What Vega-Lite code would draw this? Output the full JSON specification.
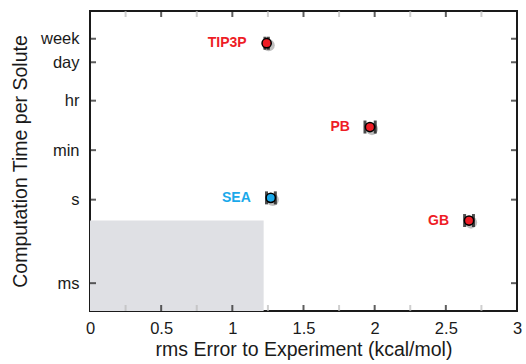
{
  "$schema": "https://vega.github.io/schema/vega-lite/v6.json",
  "autosize": "none",
  "width": 427,
  "height": 300,
  "padding": {"left": 90, "top": 11, "right": 9, "bottom": 53},
  "background": "white",
  "config": {
    "view": {"stroke": "#1a1a1a", "strokeWidth": 2},
    "font": "Liberation Sans",
    "axis": {
      "grid": false,
      "domain": false,
      "ticks": false,
      "labelFont": "Liberation Sans",
      "titleFont": "Liberation Sans",
      "labelFontSize": 16.5,
      "titleFontSize": 19.5,
      "titleFontWeight": "normal",
      "labelColor": "#1a1a1a",
      "titleColor": "#1a1a1a",
      "labelFlush": false,
      "labelOverlap": false
    }
  },
  "datasets": {
    "pts": [
      {"method": "TIP3P", "err": 1.241, "time": 417000, "lo": 1.229, "hi": 1.253, "group": "explicit"},
      {"method": "PB", "err": 1.967, "time": 407, "lo": 1.932, "hi": 2.004, "group": "implicit"},
      {"method": "SEA", "err": 1.27, "time": 1.16, "lo": 1.24, "hi": 1.302, "group": "sea"},
      {"method": "GB", "err": 2.663, "time": 0.178, "lo": 2.632, "hi": 2.694, "group": "implicit"}
    ],
    "box": [
      {"x0": 0, "x1": 1.22, "t0": 0.0001, "t1": 0.178}
    ],
    "xmajor": [{"v": 0.5}, {"v": 1}, {"v": 1.5}, {"v": 2}, {"v": 2.5}],
    "xminor": [{"v": 0.25}, {"v": 0.75}, {"v": 1.25}, {"v": 1.75}, {"v": 2.25}, {"v": 2.75}],
    "yticks": [
      {"v": 0.001}, {"v": 1}, {"v": 60}, {"v": 3600}, {"v": 86400}, {"v": 604800}
    ]
  },
  "layer": [
    {
      "data": {"name": "box"},
      "mark": {"type": "rect", "color": "#dfe0e4"},
      "encoding": {
        "x": {
          "field": "x0", "type": "quantitative",
          "scale": {"domain": [0, 3], "nice": false},
          "axis": {
            "orient": "bottom",
            "title": "rms Error to Experiment (kcal/mol)",
            "values": [0, 0.5, 1, 1.5, 2, 2.5, 3],
            "format": "~g",
            "labelPadding": 9,
            "titlePadding": 4
          }
        },
        "x2": {"field": "x1"},
        "y": {
          "field": "t0", "type": "quantitative",
          "scale": {"type": "log", "domain": [0.0001, 6000000], "nice": false},
          "axis": {
            "orient": "left",
            "title": "Computation Time per Solute",
            "values": [0.001, 1, 60, 3600, 86400, 604800],
            "labelExpr": "datum.value == 0.001 ? 'ms' : datum.value == 1 ? 's' : datum.value == 60 ? 'min' : datum.value == 3600 ? 'hr' : datum.value == 86400 ? 'day' : 'week'",
            "labelPadding": 11,
            "titlePadding": 10
          }
        },
        "y2": {"field": "t1"}
      }
    },
    {
      "data": {"name": "xmajor"},
      "mark": {"type": "tick", "orient": "vertical", "thickness": 2, "size": 6, "yOffset": -3, "color": "#1a1a1a"},
      "encoding": {
        "x": {"field": "v", "type": "quantitative"},
        "y": {"datum": 0.0001, "type": "quantitative"}
      }
    },
    {
      "data": {"name": "xmajor"},
      "mark": {"type": "tick", "orient": "vertical", "thickness": 2, "size": 6, "yOffset": 3, "color": "#1a1a1a"},
      "encoding": {
        "x": {"field": "v", "type": "quantitative"},
        "y": {"datum": 6000000, "type": "quantitative"}
      }
    },
    {
      "data": {"name": "xminor"},
      "mark": {"type": "tick", "orient": "vertical", "thickness": 2, "size": 6, "yOffset": -3, "color": "#bbbbbb"},
      "encoding": {
        "x": {"field": "v", "type": "quantitative"},
        "y": {"datum": 0.0001, "type": "quantitative"}
      }
    },
    {
      "data": {"name": "xminor"},
      "mark": {"type": "tick", "orient": "vertical", "thickness": 2, "size": 6, "yOffset": 3, "color": "#bbbbbb"},
      "encoding": {
        "x": {"field": "v", "type": "quantitative"},
        "y": {"datum": 6000000, "type": "quantitative"}
      }
    },
    {
      "data": {"name": "yticks"},
      "mark": {"type": "tick", "orient": "horizontal", "thickness": 2, "size": 6, "xOffset": 3, "color": "#1a1a1a"},
      "encoding": {
        "x": {"datum": 0, "type": "quantitative"},
        "y": {"field": "v", "type": "quantitative"}
      }
    },
    {
      "data": {"name": "yticks"},
      "mark": {"type": "tick", "orient": "horizontal", "thickness": 2, "size": 6, "xOffset": -3, "color": "#1a1a1a"},
      "encoding": {
        "x": {"datum": 3, "type": "quantitative"},
        "y": {"field": "v", "type": "quantitative"}
      }
    },
    {
      "data": {"name": "pts"},
      "mark": {"type": "rule", "color": "#000000", "strokeWidth": 3},
      "encoding": {
        "x": {"field": "lo", "type": "quantitative"},
        "x2": {"field": "hi"},
        "y": {"field": "time", "type": "quantitative"}
      }
    },
    {
      "data": {"name": "pts"},
      "mark": {"type": "tick", "orient": "vertical", "color": "#000000", "thickness": 3, "size": 13},
      "encoding": {
        "x": {"field": "lo", "type": "quantitative"},
        "y": {"field": "time", "type": "quantitative"}
      }
    },
    {
      "data": {"name": "pts"},
      "mark": {"type": "tick", "orient": "vertical", "color": "#000000", "thickness": 3, "size": 13},
      "encoding": {
        "x": {"field": "hi", "type": "quantitative"},
        "y": {"field": "time", "type": "quantitative"}
      }
    },
    {
      "data": {"name": "pts"},
      "mark": {"type": "circle", "color": "#000000", "opacity": 0.25, "size": 150, "xOffset": 2, "yOffset": 2},
      "encoding": {
        "x": {"field": "err", "type": "quantitative"},
        "y": {"field": "time", "type": "quantitative"}
      }
    },
    {
      "data": {"name": "pts"},
      "mark": {"type": "point", "shape": "circle", "filled": true, "size": 85, "stroke": "#000000", "strokeWidth": 1.5, "opacity": 1},
      "encoding": {
        "x": {"field": "err", "type": "quantitative"},
        "y": {"field": "time", "type": "quantitative"},
        "fill": {
          "field": "group", "type": "nominal", "legend": null,
          "scale": {"domain": ["explicit", "implicit", "sea"], "range": ["#ee1d26", "#ee1d26", "#1aa9ea"]}
        }
      }
    },
    {
      "data": {"name": "pts"},
      "mark": {"type": "text", "align": "right", "baseline": "middle", "dx": -20, "fontWeight": "bold", "fontSize": 14, "font": "Liberation Sans"},
      "encoding": {
        "x": {"field": "err", "type": "quantitative"},
        "y": {"field": "time", "type": "quantitative"},
        "text": {"field": "method", "type": "nominal"},
        "color": {
          "field": "group", "type": "nominal", "legend": null,
          "scale": {"domain": ["explicit", "implicit", "sea"], "range": ["#ee1d26", "#ee1d26", "#1aa9ea"]}
        }
      }
    }
  ]
}
